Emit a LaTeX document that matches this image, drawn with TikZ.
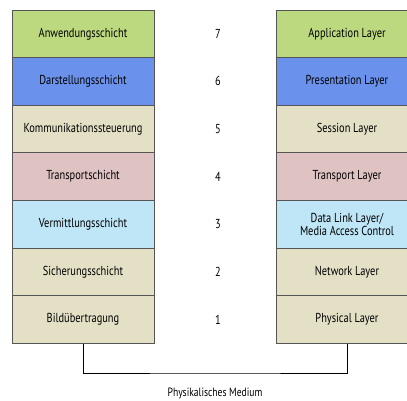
\documentclass[tikz,border=0pt]{standalone}
\usepackage{fontspec}
\setmainfont{PT Sans}[FakeStretch=0.8]
\definecolor{appgreen}{HTML}{BCD97F}
\definecolor{presblue}{HTML}{6A92EC}
\definecolor{sessbeige}{HTML}{E3E0C6}
\definecolor{transpink}{HTML}{DFC2C2}
\definecolor{netblue}{HTML}{BFE6F7}
\definecolor{edgegray}{HTML}{555555}
\tikzset{
  layer/.style={draw=edgegray, line width=0.9pt, minimum width=142pt, minimum height=47.6pt,
    inner sep=1pt, align=center, font=\fontsize{13}{13.5}\selectfont},
  layernum/.style={font=\fontsize{13}{13}\selectfont}
}
\begin{document}
\begin{tikzpicture}[x=1pt, y=-1pt]
\useasboundingbox (0,0) rectangle (407,401);
% German names
\node[layer, fill=appgreen] (de7) at (83,33.8) {Anwendungsschicht};
\node[layer, fill=presblue] (de6) at (83,81.4) {Darstellungsschicht};
\node[layer, fill=sessbeige] (de5) at (83,129.0) {Kommunikationssteuerung};
\node[layer, fill=transpink] (de4) at (83,176.6) {Transportschicht};
\node[layer, fill=netblue] (de3) at (83,224.2) {Vermittlungsschicht};
\node[layer, fill=sessbeige] (de2) at (83,271.8) {Sicherungsschicht};
\node[layer, fill=sessbeige] (de1) at (83,319.4) {Bildübertragung};
% numbers
\node[layernum] (n7) at (218,33.8) {7};
\node[layernum] (n6) at (218,81.4) {6};
\node[layernum] (n5) at (218,129.0) {5};
\node[layernum] (n4) at (218,176.6) {4};
\node[layernum] (n3) at (218,224.2) {3};
\node[layernum] (n2) at (218,271.8) {2};
\node[layernum] (n1) at (218,319.4) {1};
% English names
\node[layer, fill=appgreen] (en7) at (347,33.8) {Application Layer};
\node[layer, fill=presblue] (en6) at (347,81.4) {Presentation Layer};
\node[layer, fill=sessbeige] (en5) at (347,129.0) {Session Layer};
\node[layer, fill=transpink] (en4) at (347,176.6) {Transport Layer};
\node[layer, fill=netblue] (en3) at (347,224.2) {Data Link Layer/\\Media Access Control};
\node[layer, fill=sessbeige] (en2) at (347,271.8) {Network Layer};
\node[layer, fill=sessbeige] (en1) at (347,319.4) {Physical Layer};
% medium
\coordinate (wire) at (215,373);
\draw[line width=1pt] (de1.south) |- (wire) -| (en1.south);
\node[font=\fontsize{12}{12}\selectfont] (medium) at (215,393) {Physikalisches Medium};
\end{tikzpicture}
\end{document}
